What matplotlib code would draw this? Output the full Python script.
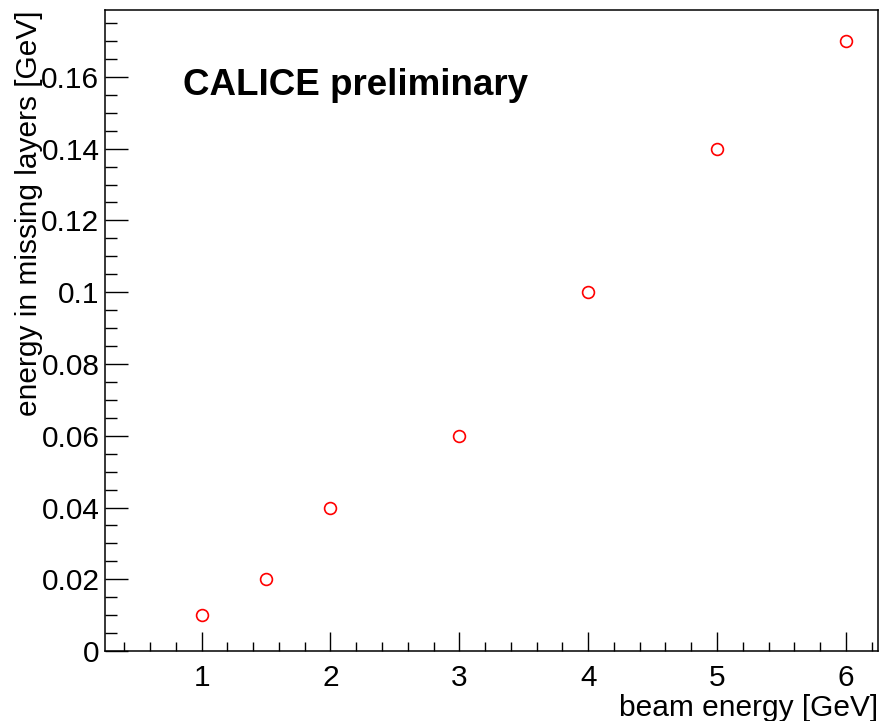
import matplotlib
matplotlib.use('Agg')
import matplotlib.pyplot as plt
from matplotlib.ticker import MultipleLocator, FuncFormatter

beam_energy = [1, 1.5, 2, 3, 4, 5, 6]
missing_energy = [0.01, 0.02, 0.04, 0.06, 0.10, 0.14, 0.17]

plt.rcParams['font.family'] = ['Liberation Sans', 'DejaVu Sans']

fig = plt.figure(figsize=(8.82, 7.21), dpi=100)
ax = fig.add_axes([0.119, 0.097, 0.8765, 0.889])

ax.plot(beam_energy, missing_energy, 'o', mfc='none', mec='red', ms=8.5, mew=1.2)

ax.set_xlim(0.25, 6.25)
ax.set_ylim(0, 0.1786)

ax.xaxis.set_major_locator(MultipleLocator(1))
ax.xaxis.set_minor_locator(MultipleLocator(0.2))
ax.yaxis.set_major_locator(MultipleLocator(0.02))
ax.yaxis.set_minor_locator(MultipleLocator(0.005))
ax.yaxis.set_major_formatter(FuncFormatter(lambda v, p: f'{v:g}'))
ax.xaxis.set_major_formatter(FuncFormatter(lambda v, p: f'{v:g}'))

ax.tick_params(axis='both', which='both', direction='in', top=False, right=False,
               labelsize=21.5, width=1)
ax.tick_params(axis='x', which='major', length=13.7, pad=9)
ax.tick_params(axis='x', which='minor', length=6.5)
ax.tick_params(axis='y', which='major', length=16.5, pad=4)
ax.tick_params(axis='y', which='minor', length=8.6)
for s in ax.spines.values():
    s.set_linewidth(1.1)

ax.set_xlabel('beam energy [GeV]', fontsize=21.5, loc='right', labelpad=2)
ax.set_ylabel('energy in missing layers [GeV]', fontsize=21.5, loc='top', labelpad=-1)

# label inside the frame
ax.text(0.101, 0.867, 'CALICE preliminary', transform=ax.transAxes,
        fontsize=26.5, fontweight='bold', va='baseline', ha='left')

fig.savefig('out.png', dpi=100)
